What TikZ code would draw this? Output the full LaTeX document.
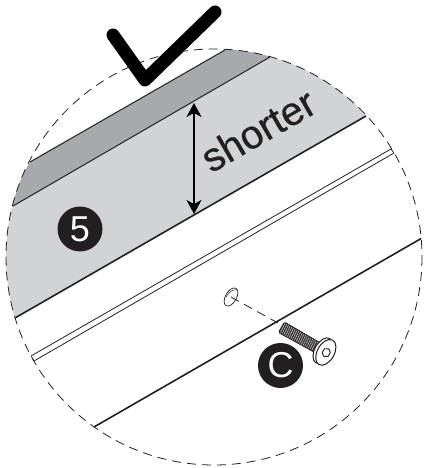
\documentclass[tikz,border=0pt]{standalone}
\usepackage{fontspec}
\setmainfont{Liberation Sans}
\newfontfamily\labelfont[FakeBold=0.6]{Liberation Sans}
\usepackage{xcolor}
\usetikzlibrary{arrows.meta,positioning,calc}
\definecolor{panelgray}{HTML}{D1D3D4}
\definecolor{edgegray}{HTML}{A7A9AC}
\definecolor{inkblack}{HTML}{231F20}
\tikzset{
  badge/.style={circle, fill=inkblack, text=white, minimum size=45pt, inner sep=0pt, font=\fontsize{36}{36}\selectfont},
  edge/.style={draw=inkblack, line width=1pt},
  heavy/.style={draw=inkblack, line width=1.6pt},
  flow/.style={{Stealth[length=14pt,width=15pt,inset=4pt]}-{Stealth[length=14pt,width=15pt,inset=4pt]}, line width=1.4pt},
  guide/.style={draw=inkblack, line width=0.8pt, dash pattern=on 9pt off 6pt},
}
\begin{document}
\begin{tikzpicture}[x=1pt,y=-1pt]
  \useasboundingbox (0,0) rectangle (423,468);
  \coordinate (hub) at (214,257);

  % panels cut by the detail circle
  \begin{scope}
    \clip (hub) circle (208);
    \fill[edgegray] (225,50) -- (30,162) -- (0,214) -- (270,57) -- (270,30) -- cycle;
    \fill[panelgray] (-10,219.4) -- (290,45.4) -- (400,60) -- (366,116) -- (15,318) -- (-10,332.4) -- cycle;
    \draw[edge] (225,50) -- (30,162);
    \draw[edge] (270,57) -- (13,206);
    \draw[heavy] (366,116) -- (15,318);
    \draw[edge, line width=0.8pt] (391,149) -- (31,356);
    \draw[edge, line width=0.8pt] (394,153) -- (34,361);
    \draw[edge, line width=0.8pt] (391,149) -- (394,153);
    \draw[edge, line width=0.8pt] (31,356) -- (34,361);
    \draw[heavy] (422,238) -- (94,427);
  \end{scope}
  \draw[guide] (hub) circle (208);

  \coordinate (gaptop) at (194,103);
  \coordinate (gapbot) at (194,214);
  \draw[flow] (gaptop) -- (gapbot);
  \node[rotate=30, text=inkblack, font=\labelfont\fontsize{40}{40}\selectfont] (shorter) at (258,130) {shorter};

  % tick mark
  \draw[line width=13pt, line cap=round, line join=round] (113,35) -- (145,80) -- (215,12);

  \node[badge] (five) at (80,229) {5};
  \node[badge] (letter) at (280.5,365.5) {C};

  % hole and screw
  \draw[edge, line width=0.7pt, fill=white, rotate around={-30:(231,297)}] (231,297) ellipse (5.5 and 10);
  \draw[edge, line width=0.5pt] (226,297) .. controls (229,292) and (233,289) .. (237,290);
  \coordinate (hole) at (231,297);
  \coordinate (tip) at (278,323);
  \draw[guide] (hole) -- (tip);
  \begin{scope}[shift={(281,327)}, rotate=-29.5]
    \fill[white] (-2,-6) rectangle (44,6);
    \fill[inkblack!90] (0,-4) -- (2,-6) -- (43,-5.5) -- (43,5.5) -- (2,6) -- (0,4) -- cycle;
    \foreach \tx in {1.5,3.5,...,41.5}
      \draw[white, line width=0.3pt] (\tx,-6) -- (\tx+0.8,6);
    \draw[edge, line width=0.8pt] (0,-4) -- (2,-6) -- (43,-5.5);
    \draw[edge, line width=0.8pt] (0,4) -- (2,6) -- (43,5.5);
    \draw[edge, fill=white, line width=1pt] (48,0) ellipse (8 and 14);
    \draw[edge, fill=white, line width=1pt] (51.5,0) ellipse (8.5 and 14);
    \draw[edge, line width=0.9pt] (48.5,-2.5) -- (52.5,-4.5) -- (55.5,-2) -- (55.5,2.5) -- (51.5,4.5) -- (48.5,2) -- cycle;
  \end{scope}
\end{tikzpicture}
\end{document}
